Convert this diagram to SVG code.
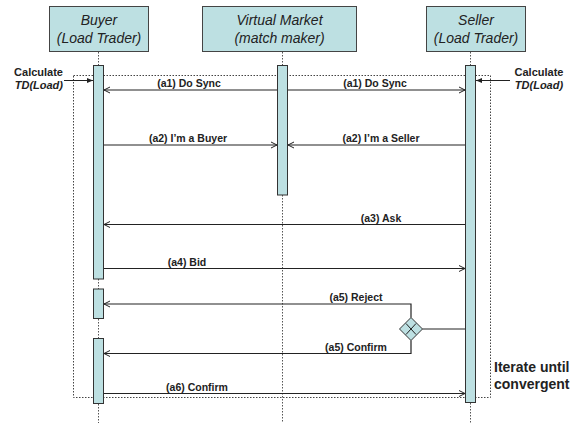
<svg xmlns="http://www.w3.org/2000/svg" width="582" height="423" viewBox="0 0 582 423">
  <defs>
    <marker id="open" markerWidth="8" markerHeight="8" refX="7" refY="4" orient="auto" markerUnits="userSpaceOnUse">
      <path d="M1,1 L7,4 L1,7" fill="none" stroke="#222" stroke-width="1"/>
    </marker>
    <marker id="solid" markerWidth="7" markerHeight="6" refX="6" refY="3" orient="auto" markerUnits="userSpaceOnUse">
      <path d="M0,0.5 L6,3 L0,5.5 Z" fill="#222"/>
    </marker>
  </defs>
  <style>
    .head { fill: #bde0e2; stroke: #444; stroke-width: 1; }
    .bar { fill: #bde0e2; stroke: #333; stroke-width: 1; }
    .lifeline { stroke: #555; stroke-width: 1; stroke-dasharray: 1.5 1.5; fill: none; }
    .frame { stroke: #444; stroke-width: 1; stroke-dasharray: 1.5 1.5; fill: none; }
    .msg { stroke: #222; stroke-width: 1.2; fill: none; }
    .htxt { font-family: "Liberation Sans", Arial, sans-serif; font-size: 14px; font-style: italic; fill: #222; text-anchor: middle; }
    .lbl { font-family: "Liberation Sans", Arial, sans-serif; font-size: 10.5px; font-weight: bold; fill: #222; text-anchor: middle; }
    .note { font-family: "Liberation Sans", Arial, sans-serif; font-size: 11px; font-weight: bold; fill: #222; }
    .big { font-family: "Liberation Sans", Arial, sans-serif; font-size: 14px; font-weight: bold; fill: #222; }
  </style>

  <rect width="582" height="423" fill="#fff"/>

  <!-- loop frame -->
  <rect class="frame" x="73.5" y="75.5" width="417" height="322"/>

  <!-- participants -->
  <g id="buyer">
    <rect class="head" x="49.5" y="6.5" width="99" height="45"/>
    <text class="htxt" x="99" y="25">Buyer</text>
    <text class="htxt" x="99" y="43">(Load Trader)</text>
    <path class="lifeline" d="M98.5,52 V66 M98.5,279 V289 M98.5,319 V338 M98.5,404 V423"/>
    <rect class="bar" x="93.5" y="65.5" width="10" height="213.5"/>
    <rect class="bar" x="93.5" y="289" width="10" height="29.5"/>
    <rect class="bar" x="93.5" y="338.5" width="10" height="65"/>
  </g>

  <g id="market">
    <rect class="head" x="202.5" y="6.5" width="154" height="45"/>
    <text class="htxt" x="279.5" y="25">Virtual Market</text>
    <text class="htxt" x="279.5" y="43">(match maker)</text>
    <path class="lifeline" d="M282.5,52 V66 M282.5,195 V423"/>
    <rect class="bar" x="277.5" y="65.5" width="10" height="129.5"/>
  </g>

  <g id="seller">
    <rect class="head" x="426.5" y="6.5" width="99" height="45"/>
    <text class="htxt" x="476" y="25">Seller</text>
    <text class="htxt" x="476" y="43">(Load Trader)</text>
    <path class="lifeline" d="M470.5,52 V66 M470.5,403 V423"/>
    <rect class="bar" x="465.5" y="65.5" width="10" height="337"/>
  </g>

  <!-- decision gateway -->
  <g id="gateway">
    <path d="M411,317.5 L422.5,329 L411,340.5 L399.5,329 Z" fill="#bde0e2" stroke="#333" stroke-width="1"/>
    <path d="M406,323.5 Q411,329 416,334.5 M416,323.5 Q411,329 406,334.5" fill="none" stroke="#222" stroke-width="1"/>
  </g>

  <!-- notes -->
  <g id="calc-buyer">
    <text class="note" x="63" y="76" text-anchor="end">Calculate</text>
    <text class="note" x="63" y="89" text-anchor="end" font-style="italic">TD(Load)</text>
  </g>
  <g id="calc-seller">
    <text class="note" x="539" y="76" text-anchor="middle">Calculate</text>
    <text class="note" x="539" y="89" text-anchor="middle" font-style="italic">TD(Load)</text>
  </g>
  <g id="iterate">
    <text class="big" x="494" y="372">Iterate until</text>
    <text class="big" x="494" y="389">convergent</text>
  </g>

  <!-- connectors -->
  <g id="connectors">
    <path d="M64,80.5 H93" stroke="#222" stroke-width="1" marker-end="url(#solid)"/>
    <path d="M510,80.5 H476" stroke="#222" stroke-width="1" marker-end="url(#solid)"/>

    <path class="msg" d="M277,90 H104" marker-end="url(#open)"/>
    <path class="msg" d="M288,90 H465" marker-end="url(#open)"/>
    <path class="msg" d="M104,145 H277" marker-end="url(#open)"/>
    <path class="msg" d="M465,145 H288" marker-end="url(#open)"/>
    <path class="msg" d="M465,224.5 H104" marker-end="url(#open)"/>
    <path class="msg" d="M104,268.5 H465" marker-end="url(#open)"/>
    <path class="msg" d="M465,329 H422.5"/>
    <path class="msg" d="M411,317.5 V304 H104" marker-end="url(#open)"/>
    <path class="msg" d="M411,340.5 V353.5 H104" marker-end="url(#open)"/>
    <path class="msg" d="M104,393.5 H465" marker-end="url(#open)"/>

    <text class="lbl" x="189" y="87">(a1) Do Sync</text>
    <text class="lbl" x="375" y="87">(a1) Do Sync</text>
    <text class="lbl" x="188" y="142">(a2) I’m a Buyer</text>
    <text class="lbl" x="381" y="142">(a2) I’m a Seller</text>
    <text class="lbl" x="381" y="221.5">(a3) Ask</text>
    <text class="lbl" x="187" y="265.5">(a4) Bid</text>
    <text class="lbl" x="356" y="301">(a5) Reject</text>
    <text class="lbl" x="356" y="350.5">(a5) Confirm</text>
    <text class="lbl" x="197" y="390.5">(a6) Confirm</text>
  </g>
</svg>
